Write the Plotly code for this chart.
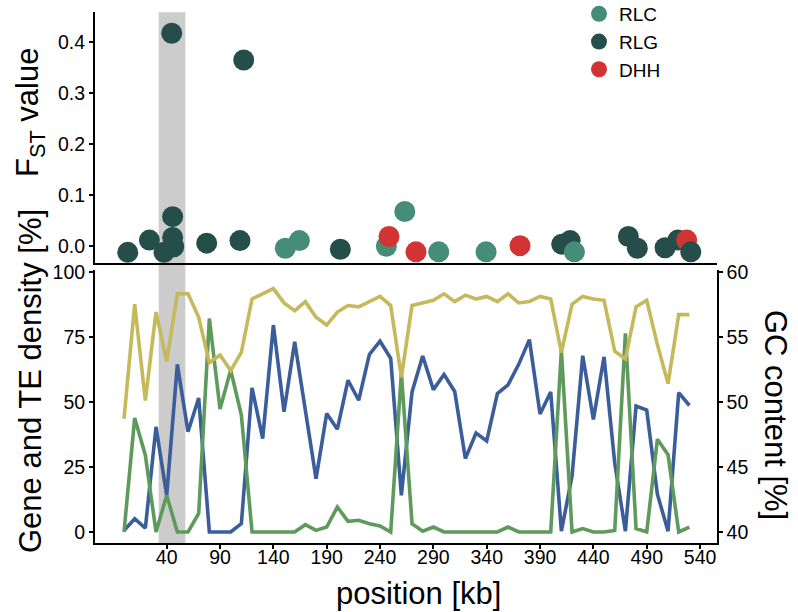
import plotly.graph_objects as go

# ---------------- data ----------------
position_kb = list(range(0, 540, 10))

gc_content = [48.7, 57.5, 50.1, 56.9, 53.1, 58.3, 58.3, 56.5, 53.0, 53.6,
              52.4, 53.8, 57.9, 58.3, 58.7, 57.6, 57.0, 57.7, 56.5, 55.9,
              56.9, 57.4, 57.3, 57.7, 58.1, 57.4, 51.9, 57.4, 57.6, 57.8,
              58.3, 57.7, 58.2, 57.9, 58.1, 57.7, 58.3, 57.6, 57.7, 58.1,
              57.9, 53.8, 57.5, 58.1, 57.9, 57.8, 53.9, 53.3, 57.3, 57.8,
              54.4, 51.4, 56.7, 56.7]

gene_density = [0.6, 5.1, 1.5, 40.4, 14.0, 64.4, 38.5, 51.5, 0.0, 0.0,
                0.0, 3.2, 55.4, 35.9, 79.5, 46.2, 73.1, 46.8, 20.5, 45.5,
                39.5, 58.3, 50.6, 68.2, 73.3, 66.7, 14.1, 53.8, 67.6, 54.7,
                60.5, 54.0, 28.2, 38.0, 35.0, 53.2, 56.5, 64.4, 73.9, 45.3,
                53.8, 0.3, 21.5, 67.7, 43.2, 67.3, 26.5, 0.3, 48.4, 46.8,
                14.5, 0.3, 53.5, 48.6]

te_density = [0.0, 43.8, 29.5, 0.0, 14.1, 0.0, 0.0, 7.1, 82.0, 47.2,
              62.2, 44.9, 0.0, 0.0, 0.0, 0.0, 0.0, 2.8, 0.6, 1.9,
              9.6, 4.1, 4.5, 3.2, 2.3, 0.0, 60.9, 3.2, 0.3, 1.9,
              0.0, 0.0, 0.0, 0.0, 0.0, 0.0, 1.9, 0.0, 0.0, 0.0,
              0.0, 69.7, 0.0, 1.3, 0.0, 0.0, 0.6, 76.3, 1.3, 0.0,
              35.6, 29.7, 0.0, 1.9]

fst_pos = [3.5, 23.8, 37.5, 44.7, 45.6, 45.6, 46.6, 77.5, 108.7, 112.2,
           151.2, 164.4, 202.8, 245.9, 248.4, 263.2, 273.7, 295.0, 339.4, 371.2,
           410.3, 418.2, 422.2, 472.8, 481.2, 507.2, 519.1, 527.5, 531.3]
fst_val = [-0.013, 0.011, -0.013, 0.4165, 0.057, 0.016, -0.002, 0.005, 0.010, 0.364,
           -0.005, 0.010, -0.007, -0.001, 0.018, 0.067, -0.012, -0.012, -0.012, 0.000,
           0.003, 0.010, -0.012, 0.018, -0.005, -0.004, 0.011, 0.011, -0.012]
fst_type = ["RLG", "RLG", "RLG", "RLG", "RLG", "RLG", "RLG", "RLG", "RLG", "RLG",
            "RLC", "RLC", "RLG", "RLC", "DHH", "RLC", "DHH", "RLC", "RLC", "DHH",
            "RLG", "RLG", "RLC", "RLG", "RLG", "RLG", "RLG", "DHH", "RLG"]

legend_types = ["RLC", "RLG", "DHH"]
type_colors = {"RLC": "#458D76", "RLG": "#254E4B", "DHH": "#D23333"}

highlight = [32.5, 57.5]
x_ticks = [40, 90, 140, 190, 240, 290, 340, 390, 440, 490, 540]

# ---------------- figure ----------------
W, H = 798, 612
def py(px):
    return 1 - px / H

fig = go.Figure()

fig.add_trace(go.Scatter(x=position_kb, y=gene_density, mode="lines",
                         line=dict(color="#3B5E9B", width=3.6),
                         xaxis="x", yaxis="y", showlegend=False, hoverinfo="skip"))
fig.add_trace(go.Scatter(x=position_kb, y=te_density, mode="lines",
                         line=dict(color="#5E9A5C", width=3.6),
                         xaxis="x", yaxis="y", showlegend=False, hoverinfo="skip"))
fig.add_trace(go.Scatter(x=position_kb, y=gc_content, mode="lines",
                         line=dict(color="#C5B95B", width=3.6),
                         xaxis="x", yaxis="y3", showlegend=False, hoverinfo="skip"))

fig.add_trace(go.Scatter(x=fst_pos, y=fst_val, mode="markers",
                         marker=dict(size=21, color=[type_colors[t] for t in fst_type],
                                     line=dict(width=0)),
                         xaxis="x2", yaxis="y2", showlegend=False))
for t in legend_types:
    fig.add_trace(go.Scatter(x=[None], y=[None], mode="markers", name=t,
                             marker=dict(size=17, color=type_colors[t], line=dict(width=0)),
                             xaxis="x2", yaxis="y2", showlegend=True))

xr = [-27.2, 555.6]
dens_r = [-4.35, 100.65]
gc_r = [40 + dens_r[0] / 5, 40 + dens_r[1] / 5]

font = "Liberation Sans, Arial, sans-serif"
tickfont = dict(family=font, size=19.5, color="black")
axis_common = dict(showline=True, linecolor="black", linewidth=2, showgrid=False,
                   zeroline=False, ticks="outside", ticklen=4, tickwidth=1.5,
                   tickcolor="black", tickfont=tickfont, automargin=False)

fig.update_layout(
    width=W, height=H, margin=dict(l=0, r=0, t=0, b=0, autoexpand=False),
    plot_bgcolor="white", paper_bgcolor="white",
    xaxis=dict(domain=[95 / W, 716.7 / W], range=xr, anchor="y",
               tickvals=x_ticks, ticklabelstandoff=-9, **axis_common),
    xaxis2=dict(domain=[95 / W, 716.7 / W], range=xr, anchor="y2", matches="x",
                showline=True, linecolor="black", linewidth=2, showgrid=False,
                zeroline=False, ticks="", showticklabels=False, automargin=False),
    yaxis=dict(domain=[py(543.3), py(270)], range=dens_r, anchor="x",
               tickvals=[0, 25, 50, 75, 100], **axis_common),
    yaxis3=dict(range=gc_r, overlaying="y", side="right", anchor="x",
                tickvals=[40, 45, 50, 55, 60], **axis_common),
    yaxis2=dict(domain=[py(263.3), py(12.3)], range=[-0.0345, 0.4576], anchor="x2",
                tickvals=[0, 0.1, 0.2, 0.3, 0.4], tickformat=".1f", **axis_common),
    legend=dict(x=579 / W, y=1 + 5 / H, xanchor="left", yanchor="top",
                font=dict(family=font, size=19, color="black"),
                bgcolor="rgba(0,0,0,0)", tracegroupgap=0, itemwidth=30),
)

fig.add_shape(type="rect", xref="x", yref="paper", x0=highlight[0], x1=highlight[1],
              y0=py(543.3), y1=py(12.3), fillcolor="#CCCCCC", line=dict(width=0),
              layer="below")

title_font = dict(family=font, size=31, color="black")
fig.add_annotation(text="position [kb]", xref="paper", yref="paper",
                   x=418 / W, y=py(593), showarrow=False,
                   font=dict(family=font, size=31, color="black"),
                   xanchor="center", yanchor="middle")
fig.add_annotation(text="F<sub>ST</sub> value", xref="paper", yref="paper",
                   x=30 / W, y=py(113), showarrow=False, font=title_font,
                   textangle=-90, xanchor="center", yanchor="middle")
fig.add_annotation(text="Gene and TE density [%]", xref="paper", yref="paper",
                   x=30 / W, y=py(381), showarrow=False, font=title_font,
                   textangle=-90, xanchor="center", yanchor="middle")
fig.add_annotation(text="GC content [%]", xref="paper", yref="paper",
                   x=776 / W, y=py(415), showarrow=False, font=title_font,
                   textangle=90, xanchor="center", yanchor="middle")

fig.write_html("out.html")
